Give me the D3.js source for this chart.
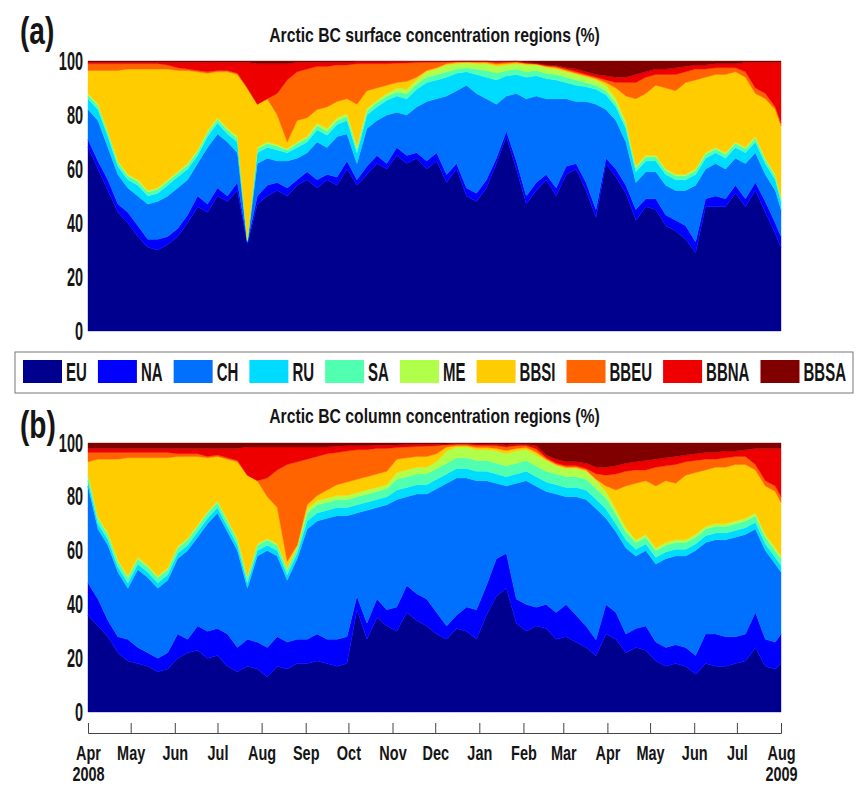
<!DOCTYPE html>
<html>
<head>
<meta charset="utf-8">
<script src="https://cdn.jsdelivr.net/npm/d3@7"></script>
<style>
  body { margin: 0; background: #fff; }
  svg text {
    font-family: "Liberation Sans", Arial, sans-serif;
    font-weight: bold;
    fill: #151515;
  }
</style>
</head>
<body>
<svg id="chart" width="861" height="788"></svg>
<script>
// regions, in stacking order (bottom to top)
var keys = ['EU', 'NA', 'CH', 'RU', 'SA', 'ME', 'BBSI', 'BBEU', 'BBNA', 'BBSA'];
var colors = ['#00008f', '#0000ff', '#0070ff', '#00dcff', '#50ffb0', '#b0ff4a', '#ffcc00', '#ff6400', '#ee0000', '#800000'];

// weekly samples from 1 Apr 2008, last one on 1 Aug 2009
var startDate = new Date(2008, 3, 1);
var endDate = new Date(2009, 7, 1);
var dates = d3.range(70).map(function(i) { return d3.timeDay.offset(startDate, 7 * i); }).concat([endDate]);

// (a) surface concentration shares (%)
var surfEU = [68,60,52,44,40,35,31,30,32,35, 40,46,44,50,48,52,32,47,50,52, 50,54,56,53,56,54,60,54,58,62,
  60,65,62,64,60,63,55,60,50,48, 53,62,72,60,47,52,56,50,58,60, 52,42,62,57,51,41,46,45,39,37, 34,29,46,46,46,51,46,52,44,36,31];
var surfNA = [3,3,4,3,4,4,3,4,3,3, 3,4,3,3,2,3,1,3,4,3, 3,2,3,3,2,3,3,2,3,3,
  2,3,3,2,3,3,3,2,3,3, 3,2,2,3,3,3,2,3,3,2, 3,3,2,3,3,4,3,4,4,4, 5,4,3,4,3,3,3,3,4,4,4];
var surfCH = [11,15,12,11,9,11,13,14,15,15, 13,12,21,20,20,11,0,12,10,8, 10,8,7,14,10,15,10,6,14,13,
  18,13,15,17,22,20,29,27,38,37, 30,20,13,25,36,32,28,33,25,23, 30,39,18,18,16,10,10,10,11,11, 13,21,11,12,11,10,13,11,10,12,10];
var surfRU = [4,4,4,3,3,4,3,3,4,4, 4,3,4,4,3,4,0.5,4,4,4, 3,4,4,4.5,4.5,4.5,5,4,5,5,
  5.5,6,6,6.5,7,7,7,6.5,5,7, 8,9,7.5,7,8,7.5,7.5,7,6,6, 5.5,5.5,5.5,5,5,4,4,4,4,4, 4,4,4,4,4,4,4,4,4,4,3];
var surfSA = [1.5,1.5,1.5,1.5,1.5,1.5,1.5,1.5,1.5,1.5, 1.5,1.5,1.5,1.5,1.5,1.5,0.3,1.5,1.5,1.5, 1,1.5,1.5,1.5,1.5,1.5,1.5,1.5,1.5,1.5,
  1.5,1.5,2,2,2,2,2,1.5,1.5,2, 2.5,2.5,2,2,2,2,2,2,2,2, 1.5,1.5,1.5,1.5,1.5,1.5,1.5,1.5,1.5,1.5, 1.5,1.5,1.5,1.5,1.5,1.5,1.5,1.5,1.5,1.5,1];
var surfME = [0.5,0.5,0.5,0.5,0.5,0.5,0.5,0.5,0.5,0.5, 0.5,0.5,0.5,0.5,0.5,0.5,0.2,0.5,0.5,0.5, 0.5,0.5,0.5,1,1,1,1,1,1,1,
  1,1.5,1.5,1.5,2,2,2.5,2,1.8,2, 2.5,2.5,2,2,2.5,2,2,2,2,2, 2,2,2,1.5,1,0.5,0.5,0.5,0.5,0.5, 0.5,0.5,0.5,0.5,0.5,0.5,0.5,0.5,0.5,0.5,0.5];
var surfBBSI = [8.5,12.5,22.5,33.5,39,41,45,44,41,37.5, 34.5,29,21.5,17,21,23,56,16,16,11, 2.5,8,7,5,8,6,5.5,15.5,6.5,4.5,
  3,2,3,1,0.5,0.5,0.5,0.4,0.3,0.4, 0.4,0.8,0.6,0.4,0.5,0.3,0.5,0.5,0.5,0.5, 0.5,0.5,1,4,9.5,25,23,26,30,31, 34,33,28,27,29,26,26,16,22,24,26.5];
var surfBBEU = [2.5,2.5,2.5,2.5,2,2,2,2,1.5,1, 0.5,0.5,0.5,0.5,0.5,0.5,0,0,0,8, 23,18,18,16,15,13.5,12.5,15,10,9,
  8,7.2,6.8,5.4,3,2,0.6,0.4,0.2,0.4, 0.4,0.6,0.5,0.4,0.2,0.2,0.3,0.5,0.5,0.5, 0.5,0.5,1,2,5,6,6,4,5,6, 4,4,3,2.5,2.5,1.5,2,2,2,1,1];
var surfBBNA = [0.5,0.5,0.5,0.5,0.5,0.5,0.5,0.5,1,2, 2.5,3,3.5,3,3,4,9.5,15,13,11, 6,3.5,2.5,1.5,1.5,1,1,0.7,0.7,0.7,
  0.7,0.6,0.5,0.4,0.3,0.3,0.2,0.1,0.1,0.1, 0.1,0.3,0.2,0.1,0.3,0.2,0.2,0.3,0.5,1, 1,1,1.5,2,2,3,2,2,2,2.5, 2,1.5,1.5,1.5,1.5,1.5,3.5,9.5,11.5,16.5,22.5];
var surfBBSA = [0.5,0.5,0.5,0.5,0.5,0.5,0.5,0.5,0.5,0.5, 0.5,0.5,0.5,0.5,0.5,0.5,0.5,1,1,1, 1,0.5,0.5,0.5,0.5,0.5,0.5,0.3,0.3,0.3,
  0.3,0.2,0.2,0.2,0.2,0.2,0.2,0.1,0.1,0.1, 0.1,0.3,0.2,0.1,0.5,0.8,1.5,1.7,2.5,3, 4,5,5.5,6,6,5,4,3,3,2.5, 2,1.5,1.5,1,1,1,0.5,0.5,0.5,0.5,0.5];

// (b) column concentration shares (%)
var colEU = [36,32,28,22,19,18,17,15,16,20, 22,23,20,21,17,15,17,16,13,17, 16,18,18,19,18,17,18,38,27,35,
  32,30,37,34,32,29,27,31,30,27, 36,43,46,33,30,32,31,27,28,26, 24,21,29,27,22,24,23,19,17,18, 17,14,18,17,17,18,19,24,17,16,18];
var colNA = [12,10,6,6,8,6,5,5,6,9, 5,9,10,10,12,9,10,10,11,11, 10,9,9,10,9,10,10,5,6,7,
  6,9,10,10,10,8,5,5,9,11, 11,14,13,9,10,7,9,10,12,10, 8,6,11,10,7,7,9,7,7,7, 7,7,11,12,11,10,10,13,10,10,11];
var colCH = [36,26,28,24,19,29,28,26,27,28, 33,33,40,43,38,36,19,32,36,30, 23,30,41,42,45,46,45,31,42,34,
  39,40,33,37,39,46,53,51,48,48, 39,28,25,43,46,45,42,44,40,44, 47,49,32,30,32,27,28,29,33,33, 34,39,34,35,36,37,37,31,33,29,23];
var colRU = [2,2,2,2,2,2,2,2,2,2, 2,2,2,2,2,2,2,2,2,2, 2,2,3,3,3,3,3,3,3,3,
  3,3.5,3.5,3.5,3.5,3.5,3.5,3.5,3.5,3.5, 3.5,3.5,3.5,3.5,3.5,3.5,3.5,3.5,3.5,3.5, 3.5,3.5,3.5,3,3,2.5,2.5,2.5,2.5,2.5, 2.5,2.5,2.5,2.5,2.5,2.5,2.5,2.5,2.5,2.5,2.5];
var colSA = [2,2,2,2,2,2,2,2,2,2, 2,2,2,2,2,2,2,2,2,2, 2,2,3,3,3,3,3,3,3,3,
  3,4,4,4,4,4,4,4,4,4, 4,4,4,4,4,4,4,4,4,4, 4,4,4,3.5,3,2.5,2.5,2.5,2.5,2.5, 2.5,2.5,2.5,2.5,2.5,2.5,2.5,2.5,2.5,2.5,2.5];
var colME = [0.5,0.5,0.5,0.5,0.5,0.5,0.5,0.5,0.5,0.5, 0.5,0.5,0.5,0.5,0.5,0.5,0.5,0.5,0.5,0.5, 0.5,0.5,1.5,1.5,1.5,1.5,1.5,1.5,1.5,1.5,
  1.5,2.5,2.5,2.5,2.5,2.5,4.5,4,4,4, 4,4.5,4.5,4.5,4,4,4,3,3,3, 3,3,2.5,2,1.5,1,1,1,1,1, 1,1,1,1,1,1,1,1,1,1,1];
var colBBSI = [4.5,21.5,27.5,37.5,44,37,40,44,41,33.5, 30.5,25.5,20,16.5,22.5,28.5,37.5,23.5,15.5,13.5, 2.5,0.5,1.5,2,3,4,5,5,5,5,
  5,5,4.5,4,4,3,1.5,0.5,0.5,0.8, 0.8,1,1.2,1,0.8,1.2,0.5,0.5,0.5,0.5, 0.5,0.5,2,7,15.5,21,20,23,23,21, 24,23,21,21,21,21,20,16,18,21,20];
var colBBEU = [3.5,2.5,2.5,2.5,2,2,2,2,2,1, 1,1,0.5,0.5,0.5,0.5,0,0,7,14, 36,31,17,14.5,13.5,12,11.5,11,10,9.5,
  8.5,4.3,4,3.7,3.8,3,0.8,0.5,0.5,0.8, 0.8,1,1.3,1,0.8,1.2,0.5,0.5,0.5,0.5, 0.5,2,4,6,5.5,5,4,7,5.5,7, 5,4.5,4,3,3.5,3,3,2,2,2,2];
var colBBNA = [1.5,1.5,1.5,1.5,1.5,1.5,1.5,1.5,1.5,2, 2,2,3,2.5,3.5,4.5,10.5,12.5,11.5,8.5, 6.5,5.5,4.5,3.5,2.5,2.3,2,1.5,1.5,1.2,
  1.2,1,0.9,0.8,0.7,0.5,0.3,0.3,0.3,0.5, 0.5,0.5,0.8,0.5,0.4,1.2,1,1.5,1.5,1.5, 2,2.5,3,3,3,3,3.5,3,3,3, 2.5,2.5,2.5,2.5,2.5,2,2.5,6,12,14,18];
var colBBSA = [2,2,2,2,2,2,2,2,2,2, 2,2,2,2,2,2,1.5,1.5,1.5,1.5, 1.5,1.5,1.5,1.5,1.5,1.2,1,1,1,0.8,
  0.8,0.7,0.6,0.5,0.5,0.5,0.4,0.2,0.2,0.4, 0.4,0.5,0.7,0.5,0.5,1,4.5,6,7,7, 7.5,9,9,8.5,7.5,7,6.5,6,5.5,5, 4.5,4,3.5,3.5,3,3,2.5,2,2,2,2];

var surface = [surfEU, surfNA, surfCH, surfRU, surfSA, surfME, surfBBSI, surfBBEU, surfBBNA, surfBBSA];
var column = [colEU, colNA, colCH, colRU, colSA, colME, colBBSI, colBBEU, colBBNA, colBBSA];

var svg = d3.select('#chart');
svg.append('rect').attr('width', 861).attr('height', 788).attr('fill', '#fff');

var left = 88, right = 781;
var x = d3.scaleTime().domain([startDate, endDate]).range([left, right]);
var color = d3.scaleOrdinal().domain(keys).range(colors);

// squeeze text horizontally around its own anchor point (the figure uses a condensed bold face)
function squeeze(sel, k) {
  sel.each(function() {
    var t = d3.select(this);
    var tx = +t.attr('x') || 0, ty = +t.attr('y') || 0;
    t.attr('x', 0).attr('y', 0)
      .attr('transform', 'translate(' + tx + ',' + ty + ') scale(' + k + ',1)');
  });
}

function toRows(series) {
  return dates.map(function(d, i) {
    var row = { date: d };
    keys.forEach(function(k, j) { row[k] = series[j][i]; });
    return row;
  });
}

var stack = d3.stack().keys(keys).offset(d3.stackOffsetExpand);

function drawPanel(series, top, bottom, title, tag, titleY, tagY) {
  var y = d3.scaleLinear().domain([0, 1]).range([bottom, top]);
  var area = d3.area()
    .x(function(d) { return x(d.data.date); })
    .y0(function(d) { return y(d[0]); })
    .y1(function(d) { return y(d[1]); });

  var g = svg.append('g');
  g.selectAll('path.layer')
    .data(stack(toRows(series)))
    .enter()
    .append('path')
    .attr('class', 'layer')
    .attr('fill', function(d) { return color(d.key); })
    .attr('stroke', function(d) { return color(d.key); })
    .attr('stroke-width', 0.4)
    .attr('d', area);

  var yAxis = svg.append('g')
    .attr('transform', 'translate(' + left + ',0)')
    .call(d3.axisLeft(y)
      .tickValues([0, 0.2, 0.4, 0.6, 0.8, 1])
      .tickFormat(function(d) { return Math.round(d * 100); })
      .tickSize(0)
      .tickPadding(5));
  yAxis.select('.domain').remove();
  yAxis.selectAll('text').style('font-size', '25px').call(squeeze, 0.58);

  svg.append('text')
    .attr('x', (left + right) / 2)
    .attr('y', titleY)
    .attr('text-anchor', 'middle')
    .style('font-size', '21px')
    .text(title)
    .call(squeeze, 0.75);

  svg.append('text')
    .attr('x', 20)
    .attr('y', tagY)
    .style('font-size', '38px')
    .text(tag)
    .call(squeeze, 0.74);
}

drawPanel(surface, 61, 331, 'Arctic BC surface concentration regions (%)', '(a)', 42, 44);
drawPanel(column, 443, 712, 'Arctic BC column concentration regions (%)', '(b)', 423, 438);

// time axis under panel (b)
var xAxis = svg.append('g')
  .attr('transform', 'translate(0,733)')
  .call(d3.axisBottom(x)
    .ticks(d3.timeMonth.every(1))
    .tickSize(-10)
    .tickPadding(12)
    .tickFormat(d3.timeFormat('%b')));
xAxis.selectAll('path, line').attr('stroke', '#444');
xAxis.selectAll('.tick text').style('font-size', '21px').each(function(d) {
  if (+d === +startDate || +d === +endDate) {
    d3.select(this).append('tspan').attr('x', 0).attr('dy', '1em').text(d.getFullYear());
  }
});
xAxis.selectAll('.tick text').call(squeeze, 0.69);

// legend
var legendScale = 0.6;
var legend = svg.append('g');
legend.append('rect')
  .attr('x', 15).attr('y', 352)
  .attr('width', 838).attr('height', 41)
  .attr('fill', '#fff')
  .attr('stroke', '#777')
  .attr('stroke-width', 1);

var items = legend.selectAll('g.item')
  .data(keys)
  .enter()
  .append('g')
  .attr('class', 'item');
items.append('rect')
  .attr('width', 39).attr('height', 23)
  .attr('y', 360)
  .attr('fill', function(d) { return color(d); });
items.append('text')
  .attr('dy', '0.35em')
  .style('font-size', '25px')
  .text(function(d) { return d; });

// spread entries so the last label ends near the right edge of the box
var widths = [];
items.select('text').each(function() { widths.push(this.getComputedTextLength() * legendScale); });
var used = d3.sum(widths) + keys.length * 43;
var gap = (846 - 23 - used) / (keys.length - 1);
var pos = 23;
items.each(function(d, i) {
  var item = d3.select(this);
  item.select('rect').attr('x', pos);
  item.select('text').attr('x', pos + 43).attr('y', 372).call(squeeze, legendScale);
  pos += 43 + widths[i] + gap;
});
</script>
</body>
</html>
